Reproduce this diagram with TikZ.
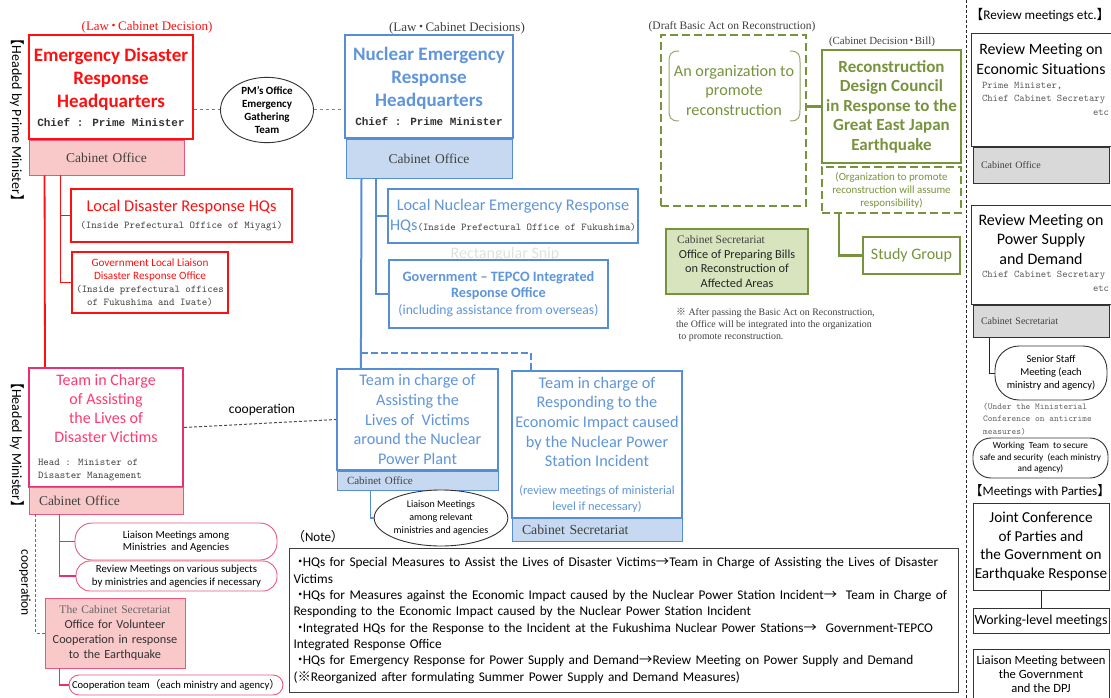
\documentclass[tikz,border=0pt]{standalone}
\usepackage{fontspec}
\setmainfont{Carlito}
\newfontfamily\timesfont{Liberation Serif}
\newfontfamily\minchofont{Liberation Mono}
\newfontfamily\cjk{Noto Sans CJK JP}
\usetikzlibrary{positioning,shapes.geometric}
\definecolor{hqred}{HTML}{FF1010}
\definecolor{bandpink}{HTML}{F9C8C8}
\definecolor{edgepink}{HTML}{E8587C}
\definecolor{teampink}{HTML}{E63070}
\definecolor{teamtext}{HTML}{FF3A70}
\definecolor{nucblue}{HTML}{558ED5}
\definecolor{nuctext}{HTML}{5F95DA}
\definecolor{bandblue}{HTML}{C6D9F1}
\definecolor{recgreen}{HTML}{77933C}
\definecolor{bandgreen}{HTML}{D7E4BD}
\definecolor{bandgray}{HTML}{D9D9D9}
\definecolor{inkgray}{HTML}{404040}
\newcommand{\jdot}{\kern-2pt{\cjk ・}\kern-2pt}
\tikzset{
  redbox/.style={draw=hqred, line width=2.4pt, fill=white, align=center, inner sep=0pt, text=hqred},
  teambox/.style={draw=teampink, line width=2.2pt, fill=white, align=center, inner sep=0pt, text=teamtext},
  pinkband/.style={draw=edgepink, line width=0.9pt, fill=bandpink, inner xsep=10pt, inner ysep=0pt, align=left, text=inkgray},
  bluebox/.style={draw=nucblue, line width=2.2pt, fill=white, align=center, inner sep=0pt, text=nuctext},
  blueband/.style={draw=nucblue, line width=1pt, fill=bandblue, inner xsep=10pt, inner ysep=0pt, align=left, text=inkgray},
  greenbox/.style={draw=recgreen, line width=2.4pt, fill=white, align=center, inner sep=0pt, text=recgreen},
  greendash/.style={draw=recgreen, line width=2.4pt, dash pattern=on 8pt off 4pt, align=center, inner sep=0pt, text=recgreen},
  plainbox/.style={draw=black!80, line width=1pt, fill=white, align=center, inner sep=0pt},
  grayband/.style={draw=black!80, line width=1pt, fill=bandgray, inner xsep=8pt, inner ysep=0pt, align=left, text=inkgray},
  pill/.style={draw=#1, line width=0.9pt, fill=white, align=center, inner sep=0pt},
  bubble/.style={ellipse, draw=black!80, line width=0.9pt, fill=white, align=center, inner sep=0pt},
  redwire/.style={hqred, line width=1.8pt},
  pinkwire/.style={teampink, line width=1.4pt},
  bluewire/.style={nucblue, line width=2pt},
  greenwire/.style={recgreen, line width=2.2pt},
  blackwire/.style={black!85, line width=1pt},
  tag/.style={inner sep=0pt, align=center}
}
\begin{document}
\begin{tikzpicture}[x=1pt,y=-1pt]
  \useasboundingbox (0,0) rectangle (1111,698);
  % emergency disaster response (red)
  \node[tag, text=hqred, font=\timesfont\fontsize{13}{14}\selectfont] (lawred) at (147,27) {(Law\jdot Cabinet Decision)};
  \node[redbox, minimum width=164pt, minimum height=104pt, font=\fontsize{19}{23}\selectfont\bfseries] (edrh) at (111,87)
    {Emergency Disaster\\Response\\Headquarters\\[-4pt]{\minchofont\fontsize{11}{13}\selectfont\color{black!80}Chief : Prime Minister}};
  \node[pinkband, text width=135pt, minimum height=35pt, align=center, font=\timesfont\fontsize{13.5}{15}\selectfont] (edrhco) at (106.5,157.5) {Cabinet Office};
  \node[bubble, minimum width=93pt, minimum height=64pt, font=\fontsize{11}{12.7}\selectfont\bfseries] (pmteam) at (267,110) {PM's Office\\Emergency\\Gathering\\Team};
  \node[redbox, line width=2.2pt, minimum width=221pt, minimum height=53pt, font=\fontsize{16.4}{16.5}\selectfont] (localhq) at (181.5,215.5)
    {Local Disaster Response HQs\\{\ttfamily\fontsize{10.4}{12}\selectfont\color{inkgray}(Inside Prefectural Office of Miyagi)}};
  \node[redbox, line width=2.2pt, minimum width=156pt, minimum height=61pt, font=\fontsize{11.2}{12.7}\selectfont] (govliaison) at (150,282.5)
    {Government Local Liaison\\Disaster Response Office\\{\ttfamily\fontsize{10.4}{12}\selectfont\color{inkgray}(Inside prefectural offices}\\{\ttfamily\fontsize{10.4}{12}\selectfont\color{inkgray}of Fukushima and Iwate)}};
  \node[tag, rotate=-90, font=\fontsize{14}{16}\selectfont] (headpm) at (17,120) {{\cjk 【}Headed by Prime Minister{\cjk 】}};

  \draw[hqred!80, line width=1pt, dashed] (edrh.east |- pmteam.west) -- (pmteam.west);
  \draw[redwire] ([xshift=16pt]edrhco.south west) -- (45,368);
  \draw[redwire] ([xshift=32pt]edrhco.south west) |- (localhq.west);
  \draw[redwire] ([xshift=32pt]edrhco.south west) |- (govliaison.west);

  % team for disaster victims (pink)
  \node[teambox, minimum width=154pt, minimum height=119pt, font=\fontsize{16}{19.3}\selectfont] (tcv) at (106,427.5)
    {Team in Charge\\of Assisting\\the Lives of\\Disaster Victims\\[-3pt]\parbox[t]{136pt}{\raggedright\ttfamily\fontsize{10.4}{13}\selectfont\color{inkgray}Head : Minister of\\Disaster Management}};
  \node[pinkband, text width=134pt, minimum height=27pt, font=\timesfont\fontsize{13.5}{15}\selectfont] (tcvco) at (106,500.5) {Cabinet Office};
  \node[pill=edgepink, rounded corners=17pt, minimum width=202pt, minimum height=37pt, font=\fontsize{10.8}{12}\selectfont] (liaisonpill) at (176,541.5) {Liaison Meetings among\\Ministries\ \ and Agencies};
  \node[pill=edgepink, rounded corners=14pt, minimum width=201pt, minimum height=30pt, font=\fontsize{10.8}{13}\selectfont] (reviewpill) at (176.5,576) {Review Meetings on various subjects\\by ministries and agencies if necessary};
  \node[pinkband, align=center, inner xsep=0pt, text width=140pt, minimum height=70pt, text=black!80, font=\fontsize{12.3}{14.7}\selectfont] (volunteer) at (115,633)
    {{\timesfont\fontsize{11.5}{14}\selectfont\color{black!60}The Cabinet Secretariat}\\Office for Volunteer\\Cooperation in response\\to the Earthquake};
  \node[pill=edgepink, rounded corners=10pt, minimum width=214pt, minimum height=20pt, font=\fontsize{10.6}{12}\selectfont] (coopteam) at (176,685) {Cooperation team{\cjk （}each ministry and agency{\cjk ）}};
  \node[tag, rotate=-90, font=\fontsize{14}{16}\selectfont] (headmin) at (17,445) {{\cjk 【}Headed by Minister{\cjk 】}};
  \node[tag, rotate=-90, font=\fontsize{13.5}{15}\selectfont] (cooprot) at (25,583) {cooperation};
  \node[tag, font=\fontsize{13.5}{15}\selectfont] (cooplbl) at (262,410) {cooperation};

  \draw[pinkwire] ([xshift=31pt]tcvco.south west) |- (liaisonpill.west);
  \draw[pinkwire] ([xshift=31pt]tcvco.south west) |- (reviewpill.west);
  \draw[teampink, line width=1pt, dash pattern=on 3pt off 2pt] ([xshift=7pt]tcvco.south west) |- (volunteer.west);
  \draw[pinkwire] ([xshift=15pt]volunteer.south west) |- (coopteam.west);

  % nuclear emergency response (blue)
  \node[tag, text=inkgray, font=\timesfont\fontsize{13}{14}\selectfont] (lawblue) at (457,28) {(Law\jdot Cabinet Decisions)};
  \node[bluebox, minimum width=168pt, minimum height=103pt, font=\fontsize{19}{23}\selectfont\bfseries] (nerh) at (429,86.5)
    {Nuclear Emergency\\Response\\Headquarters\\[-4pt]{\minchofont\fontsize{11}{13}\selectfont\color{black!80}Chief : Prime Minister}};
  \node[blueband, align=center, text width=146pt, minimum height=38pt, font=\timesfont\fontsize{13.5}{15}\selectfont] (nerhco) at (429,159) {Cabinet Office};
  \node[bluebox, minimum width=250pt, minimum height=54pt, font=\fontsize{16.3}{20}\selectfont] (localnuc) at (513,216)
    {Local Nuclear Emergency Response\\HQs{\ttfamily\fontsize{10.4}{12}\selectfont\color{inkgray}(Inside Prefectural Office of Fukushima)}};
  \node[tag, text=black!12, font=\fontsize{16}{18}\selectfont] (snip) at (505,254) {Rectangular Snip};
  \node[bluebox, minimum width=219pt, minimum height=68pt, font=\fontsize{14.3}{16.5}\selectfont] (tepco) at (498.5,294)
    {\textbf{Government -- TEPCO Integrated}\\\textbf{Response Office}\\{\fontsize{13.7}{15}\selectfont(including assistance from overseas)}};
  \node[bluebox, minimum width=161pt, minimum height=101pt, font=\fontsize{16.2}{19.7}\selectfont] (tcnuc) at (417.5,419.5)
    {Team in charge of\\Assisting the\\Lives of\ \ Victims\\around the Nuclear\\Power Plant};
  \node[blueband, text width=141pt, minimum height=19pt, font=\timesfont\fontsize{11}{12}\selectfont] (tcnucco) at (417.5,480.5) {Cabinet Office};
  \node[bubble, minimum width=116pt, minimum height=56pt, font=\fontsize{10}{13}\selectfont] (liaisonell) at (441,518)
    {Liaison Meetings\\among relevant\\ministries and agencies};
  \node[bluebox, minimum width=170pt, minimum height=147pt, font=\fontsize{16.3}{19.7}\selectfont] (tcecon) at (597,444.5)
    {Team in charge of\\Responding to the\\Economic Impact caused\\by the Nuclear Power\\Station Incident\\[8pt]{\fontsize{12.4}{15}\selectfont(review meetings of ministerial}\\[-4pt]{\fontsize{12.4}{15}\selectfont level if necessary)}};
  \node[blueband, text width=150pt, minimum height=23pt, font=\timesfont\fontsize{13.8}{15}\selectfont] (tceconco) at (597,529.5) {Cabinet Secretariat};

  \draw[nucblue, line width=1pt, dashed] (pmteam.east) -- (nerh.west |- pmteam.east);
  \draw[bluewire] ([xshift=16pt]nerhco.south west) -- ([xshift=25pt]tcnuc.north west);
  \draw[bluewire] ([xshift=30pt]nerhco.south west) |- (localnuc.west);
  \draw[bluewire] ([xshift=30pt]nerhco.south west) |- (tepco.west);
  \draw[bluewire, dash pattern=on 7pt off 3pt] ([xshift=25pt,yshift=15pt]tcnuc.north west) -| ([xshift=20pt]tcecon.north west);
  \draw[nucblue, line width=1.4pt] ([xshift=34pt]tcnucco.south west) |- (liaisonell.west);
  \draw[black!70, line width=1pt, dash pattern=on 3pt off 2pt] (tcv.east) -- (tcnuc.west);

  % reconstruction (green)
  \node[tag, text=inkgray, font=\timesfont\fontsize{11.5}{12}\selectfont] (draftlbl) at (732,27) {(Draft Basic Act on Reconstruction)};
  \node[greendash, minimum width=145pt, minimum height=171pt] (orgbox) at (733.5,120.5) {};
  \node[tag, text=recgreen, font=\fontsize{16.2}{19.5}\selectfont] (orgtext) at (734,90) {An organization to\\promote\\reconstruction};
  \draw[recgreen!80, line width=1pt] (679,51) .. controls (670,51) and (669,55) .. (669,62) -- (669,110) .. controls (669,117) and (670,121) .. (679,121);
  \draw[recgreen!80, line width=1pt] (790,51) .. controls (799,51) and (800,55) .. (800,62) -- (800,110) .. controls (800,117) and (799,121) .. (790,121);
  \node[tag, text=inkgray, font=\timesfont\fontsize{10.9}{12}\selectfont] (cabdecbill) at (882,42) {(Cabinet Decision\jdot Bill)};
  \node[greenbox, minimum width=139pt, minimum height=113pt, font=\fontsize{17}{19.5}\selectfont\bfseries] (rdc) at (891.5,106.5)
    {Reconstruction\\Design Council\\in Response to the\\Great East Japan\\Earthquake};
  \node[greendash, minimum width=139pt, minimum height=46pt, font=\fontsize{10.9}{13}\selectfont] (assume) at (891.5,190)
    {(Organization to promote\\reconstruction will assume\\responsibility)};
  \node[greenbox, minimum width=97pt, minimum height=37pt, font=\fontsize{16}{18}\selectfont] (studygrp) at (911.5,255.5) {Study Group};
  \node[greenbox, line width=1.2pt, fill=bandgreen, text=black!85, minimum width=142pt, minimum height=65pt, font=\fontsize{12.3}{14.5}\selectfont] (billoffice) at (737,261.5)
    {\hspace*{-32pt}{\timesfont\fontsize{11.5}{14}\selectfont\color{inkgray}Cabinet Secretariat}\\Office of Preparing Bills\\on Reconstruction of\\Affected Areas};
  \node[tag, anchor=north west, align=left, text=inkgray, font=\timesfont\fontsize{9.9}{12}\selectfont] (afternote) at (676,308)
    {{\cjk ※} After passing the Basic Act on Reconstruction,\\the Office will be integrated into the organization\\\ to promote reconstruction.};

  \draw[greenwire] (orgbox.east |- rdc.west) -- (rdc.west);
  \draw[greenwire] ([xshift=18pt]assume.south west) |- (studygrp.west);

  % review meetings and parties
  \draw[black!85, line width=0.8pt, dash pattern=on 3pt off 2pt] (966,0) -- (966,698);
  \node[tag, font=\fontsize{13.2}{15}\selectfont] (reviewhdr) at (1040,15) {{\cjk 【}Review meetings etc.{\cjk 】}};
  \node[plainbox, minimum width=136pt, minimum height=113pt] (econ) at (1041,90.5)
    {\parbox[c][105pt][t]{140pt}{\vspace*{6pt}\centering\fontsize{15.8}{20}\selectfont Review Meeting on\\Economic Situations\par
     \raggedright\ttfamily\fontsize{10.2}{13.5}\selectfont\color{black!65}\hspace*{11pt}Prime Minister,\\\hspace*{11pt}Chief Cabinet Secretary\\\hspace*{122pt}etc}};
  \node[grayband, text width=120pt, minimum height=35pt, font=\timesfont\fontsize{10}{12}\selectfont, below=0pt of econ] (econband) {Cabinet Office};
  \node[plainbox, minimum width=136pt, minimum height=99pt] (power) at (1041,254.5)
    {\parbox[c][93pt][t]{140pt}{\vspace*{6pt}\centering\fontsize{16}{19.5}\selectfont Review Meeting on\\Power Supply\\and Demand\par
     \raggedright\ttfamily\fontsize{10.2}{13.5}\selectfont\color{black!65}\hspace*{11pt}Chief Cabinet Secretary\\\hspace*{122pt}etc}};
  \node[grayband, text width=120pt, minimum height=32pt, font=\timesfont\fontsize{10}{12}\selectfont, below=0pt of power] (powerband) {Cabinet Secretariat};
  \node[pill=black!80, rounded corners=24pt, minimum width=112pt, minimum height=54pt, font=\fontsize{10.5}{13}\selectfont] (senior) at (1051,373)
    {Senior Staff\\Meeting (each\\ministry and agency)};
  \node[tag, anchor=north west, align=left, text=black!60, font=\ttfamily\fontsize{9}{12.5}\selectfont] (anticrime) at (983,403)
    {(Under the Ministerial\\Conference on anticrime\\measures)};
  \node[pill=black!80, rounded corners=18pt, minimum width=135pt, minimum height=40pt, font=\fontsize{9.3}{11.5}\selectfont] (workteam) at (1040.5,458)
    {Working\ \ Team\ \ to secure\\safe and security\ \ (each ministry\\and agency)};
  \node[tag, font=\fontsize{13}{15}\selectfont] (partieshdr) at (1040,491) {{\cjk 【}Meetings with Parties{\cjk 】}};
  \node[plainbox, minimum width=136pt, minimum height=87pt, font=\fontsize{15.2}{18.5}\selectfont] (joint) at (1041,546.5)
    {Joint Conference\\of Parties and\\the Government on\\Earthquake Response};
  \node[plainbox, minimum width=136pt, minimum height=25pt, font=\fontsize{13.9}{15}\selectfont, below=17pt of joint] (worklevel) {Working-level meetings};
  \node[plainbox, minimum width=136pt, minimum height=50pt, font=\fontsize{12.6}{14}\selectfont, below=15pt of worklevel] (dpj)
    {Liaison Meeting between\\the Government\\and the DPJ};

  \draw[blackwire] ([xshift=17pt]powerband.south west) |- (senior.west);
  \draw[blackwire] (joint.south) -- (worklevel.north);

  % note
  \node[tag, font=\fontsize{13}{14}\selectfont] (notelbl) at (318,537) {{\cjk （}Note{\cjk ）}};
  \node[draw=black!75, line width=1pt, anchor=north west, minimum width=669pt, minimum height=144pt, text width=661pt, align=left, inner xsep=4pt, inner ysep=0pt, font=\fontsize{13.3}{16.3}\selectfont] (notebox) at (289,548)
    {{\cjk ・}\kern-4pt HQs for Special Measures to Assist the Lives of Disaster Victims{\cjk →}Team in Charge of Assisting the Lives of Disaster\\
     Victims\\
     {\cjk ・}\kern-4pt HQs for Measures against the Economic Impact caused by the Nuclear Power Station Incident{\cjk →}\ \ Team in Charge of\\
     Responding to the Economic Impact caused by the Nuclear Power Station Incident\\
     {\cjk ・}\kern-4pt Integrated HQs for the Response to the Incident at the Fukushima Nuclear Power Stations{\cjk →}\ \ Government-TEPCO\\
     Integrated Response Office\\
     {\cjk ・}\kern-4pt HQs for Emergency Response for Power Supply and Demand{\cjk →}Review Meeting on Power Supply and Demand\\
     ({\cjk ※}Reorganized after formulating Summer Power Supply and Demand Measures)};
\end{tikzpicture}
\end{document}
